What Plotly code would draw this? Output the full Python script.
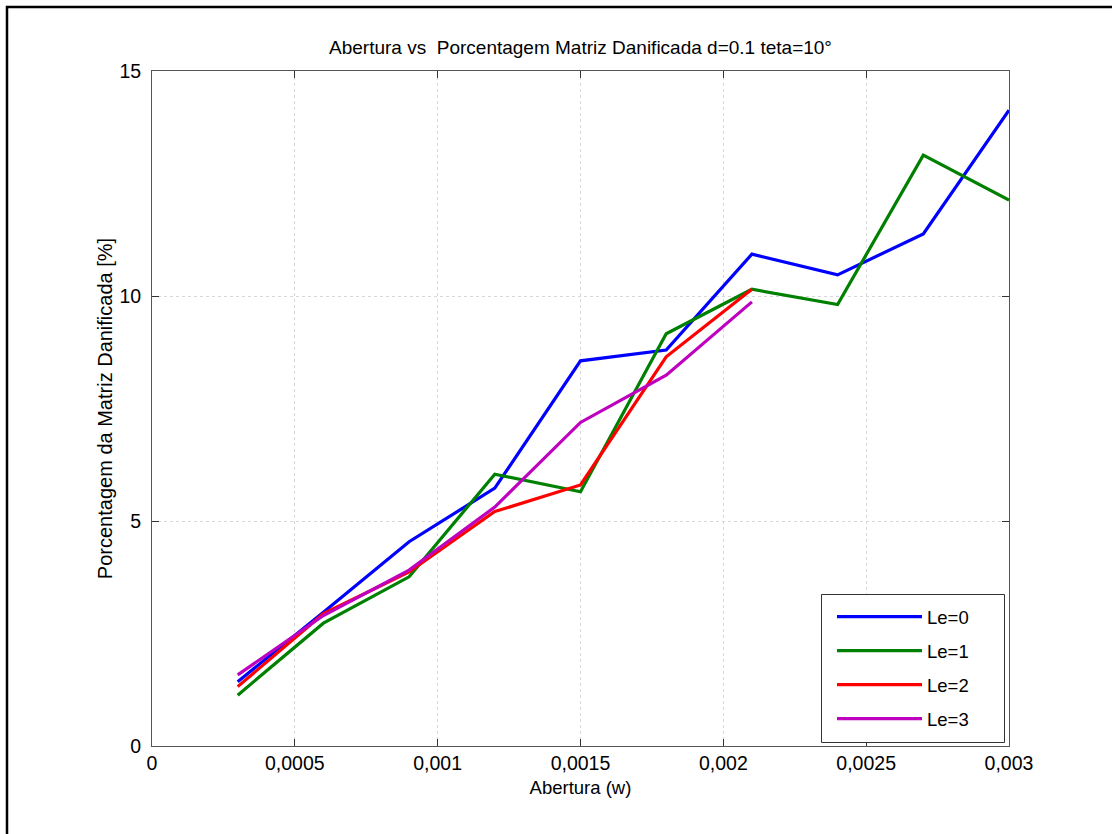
import plotly.graph_objects as go

# Abertura (w) values
abertura = [0.0003, 0.0006, 0.0009, 0.0012, 0.0015, 0.0018, 0.0021, 0.0024, 0.0027, 0.0030]

# Porcentagem da matriz danificada [%] for each Le
le0 = [1.43, 2.97, 4.54, 5.73, 8.56, 8.80, 10.93, 10.47, 11.38, 14.13]
le1 = [1.13, 2.73, 3.76, 6.04, 5.65, 9.16, 10.15, 9.81, 13.13, 12.13]
le2 = [1.32, 2.94, 3.87, 5.21, 5.80, 8.65, 10.15]
le3 = [1.58, 2.90, 3.91, 5.31, 7.19, 8.24, 9.87]

series = [
    ("Le=0", le0, "#0000FF"),
    ("Le=1", le1, "#008000"),
    ("Le=2", le2, "#FF0000"),
    ("Le=3", le3, "#BF00BF"),
]

x_ticks = [0, 0.0005, 0.001, 0.0015, 0.002, 0.0025, 0.003]
x_ticktext = ["0", "0,0005", "0,001", "0,0015", "0,002", "0,0025", "0,003"]
y_ticks = [0, 5, 10, 15]

FONT = "Liberation Sans, Arial, sans-serif"

# plot area in pixels
L, R, T, B = 152, 103, 71, 88
PW, PH = 1112 - L - R, 834 - T - B


def px_x(p):
    return (p - L) / PW


def px_y(p):
    return (834 - B - p) / PH


fig = go.Figure()
for name, vals, color in series:
    fig.add_trace(go.Scatter(
        x=abertura[:len(vals)], y=vals, mode="lines", name=name,
        legendgroup=name,
        line=dict(color=color, width=3.2),
    ))

axis_common = dict(
    showline=True, linecolor="#555555", linewidth=1, mirror="ticks",
    ticks="inside", ticklen=7, tickcolor="#333333",
    showgrid=True, gridcolor="#d8d8d8", griddash="dot", gridwidth=1,
    zeroline=False,
    tickfont=dict(family=FONT, size=19.5, color="#000000"),
)

fig.update_layout(
    width=1112, height=834,
    margin=dict(l=L, r=R, t=T, b=B),
    paper_bgcolor="white", plot_bgcolor="white",
    title=dict(
        text="Abertura vs  Porcentagem Matriz Danificada d=0.1 teta=10°",
        font=dict(family=FONT, size=19, color="#000000"),
        x=(L + PW / 2) / 1112, xanchor="center",
        y=1 - 47 / 834, yanchor="middle",
    ),
    xaxis=dict(
        range=[0, 0.003], tickvals=x_ticks, ticktext=x_ticktext,
        title=dict(text="Abertura (w)", font=dict(family=FONT, size=18.5, color="#000000"),
                   standoff=7),
        **axis_common,
    ),
    yaxis=dict(
        range=[0, 15], tickvals=y_ticks,
        ticklabelstandoff=6,
        title=dict(text="Porcentagem da Matriz Danificada [%]",
                   font=dict(family=FONT, size=20, color="#000000"), standoff=1),
        **axis_common,
    ),
    legend=dict(
        x=px_x(832), y=px_y(598), xanchor="left", yanchor="top",
        bgcolor="rgba(0,0,0,0)", borderwidth=0,
        font=dict(family=FONT, size=18.5, color="#000000"),
        itemwidth=85, tracegroupgap=7,
    ),
    showlegend=True,
    shapes=[
        # outer figure frame
        dict(type="rect", xref="paper", yref="paper",
             x0=px_x(7), x1=1.25, y0=-0.3, y1=px_y(7),
             line=dict(color="#000000", width=2.5), fillcolor="rgba(0,0,0,0)",
             layer="below"),
        # legend box
        dict(type="rect", xref="paper", yref="paper",
             x0=px_x(821.5), x1=px_x(1004.5), y0=px_y(742.5), y1=px_y(594.5),
             line=dict(color="#333333", width=1), fillcolor="white",
             layer="above"),
    ],
)

fig.write_html("out.html")
